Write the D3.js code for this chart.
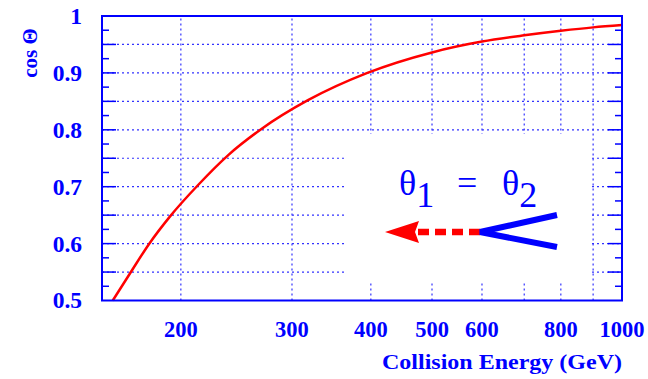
<!DOCTYPE html>
<html>
<head>
<meta charset="utf-8">
<script src="https://cdn.jsdelivr.net/npm/d3@7"></script>
<style>
  body { margin: 0; background: #fff; }
  text { font-family: "Liberation Serif", "Times New Roman", serif; fill: #0000ff; }
  .tick-label { font-weight: bold; }
</style>
</head>
<body>
<script>
// data
const energy = [156, 166, 178, 192, 213, 238, 268, 318, 395, 500, 600, 700, 800, 900, 1000];
const cosTheta = [0.500, 0.547, 0.599, 0.647, 0.703, 0.756, 0.801, 0.852, 0.900, 0.936, 0.955, 0.966, 0.974, 0.980, 0.984];

const xTicks = [200, 300, 400, 500, 600, 800, 1000];
const xGrid = [200, 300, 400, 500, 600, 700, 800, 900];
const yTicks = [0.5, 0.6, 0.7, 0.8, 0.9, 1];
const yGrid = [0.55, 0.6, 0.65, 0.7, 0.75, 0.8, 0.85, 0.9, 0.95];
const yMinor = [0.525, 0.575, 0.625, 0.675, 0.725, 0.775, 0.825, 0.875, 0.925, 0.975];

const W = 648, H = 379;
const margin = {top: 16, right: 26, bottom: 78.5, left: 102};
const blue = "#0000ff";

const svg = d3.select("body").append("svg")
    .attr("width", W)
    .attr("height", H);

const x = d3.scaleLog().domain([150, 1000]).range([margin.left, W - margin.right]);
const y = d3.scaleLinear().domain([0.5, 1]).range([H - margin.bottom, margin.top]);

// 격자선 (dotted)
const grid = svg.append("g")
    .attr("stroke", blue)
    .attr("stroke-width", 1.2)
    .attr("stroke-dasharray", "2,3")
    .attr("opacity", 0.8);

grid.selectAll(".hgrid")
    .data(yGrid)
    .join("line")
    .attr("x1", x(150)).attr("x2", x(1000))
    .attr("y1", d => y(d)).attr("y2", d => y(d));

grid.selectAll(".vgrid")
    .data(xGrid)
    .join("line")
    .attr("x1", d => x(d)).attr("x2", d => x(d))
    .attr("y1", y(0.5)).attr("y2", y(1));

// legend box hides the grid
svg.append("rect")
    .attr("x", 347).attr("y", 134)
    .attr("width", 244).attr("height", 148)
    .attr("fill", "#fff");

// axis ticks, left and right
const ticks = svg.append("g").attr("stroke", blue).attr("stroke-width", 1.5);
[[x(150), 1], [x(1000), -1]].forEach(([x0, dir]) => {
    ticks.append("g").selectAll("line")
        .data(yGrid)
        .join("line")
        .attr("x1", x0).attr("x2", x0 + dir * 14)
        .attr("y1", d => y(d)).attr("y2", d => y(d));
    ticks.append("g").selectAll("line")
        .data(yMinor)
        .join("line")
        .attr("x1", x0).attr("x2", x0 + dir * 7)
        .attr("y1", d => y(d)).attr("y2", d => y(d));
});

// curve
const line = d3.line()
    .x((d, i) => x(energy[i]))
    .y(d => y(d))
    .curve(d3.curveMonotoneX);

svg.append("path")
    .attr("d", line(cosTheta))
    .attr("fill", "none")
    .attr("stroke", "#ff0000")
    .attr("stroke-width", 2.5);

// frame
svg.append("rect")
    .attr("x", x(150)).attr("y", y(1))
    .attr("width", x(1000) - x(150))
    .attr("height", y(0.5) - y(1))
    .attr("fill", "none")
    .attr("stroke", blue)
    .attr("stroke-width", 2);

// tick labels
svg.append("g").selectAll("text")
    .data(yTicks)
    .join("text")
    .attr("class", "tick-label")
    .attr("x", 82)
    .attr("y", d => y(d))
    .attr("dy", "0.34em")
    .attr("text-anchor", "end")
    .style("font-size", "23.5px")
    .text(d => d3.format("")(d));

svg.append("g").selectAll("text")
    .data(xTicks)
    .join("text")
    .attr("class", "tick-label")
    .attr("x", d => x(d))
    .attr("y", 337)
    .attr("text-anchor", "middle")
    .style("font-size", "22.5px")
    .text(d => d);

// axis titles
svg.append("text")
    .attr("class", "tick-label")
    .attr("transform", "translate(37,53) rotate(-90)")
    .attr("text-anchor", "middle")
    .style("font-size", "21px")
    .text("cos Θ");

svg.append("text")
    .attr("class", "tick-label")
    .attr("x", 382)
    .attr("y", 369)
    .attr("textLength", 240)
    .attr("lengthAdjust", "spacingAndGlyphs")
    .style("font-size", "21px")
    .text("Collision Energy (GeV)");

// legend: θ1 = θ2 with arrow and V
const leg = svg.append("g");
const legText = leg.append("text")
    .attr("x", 399)
    .attr("y", 195)
    .style("font-size", "36px");
legText.append("tspan").text("θ");
legText.append("tspan").attr("dy", 12).text("1");
legText.append("tspan").attr("x", 457).attr("dy", -12).text("=");
legText.append("tspan").attr("x", 502).text("θ");
legText.append("tspan").attr("dy", 12).text("2");

leg.append("line")
    .attr("x1", 480).attr("y1", 232)
    .attr("x2", 414).attr("y2", 232)
    .attr("stroke", "#ff0000")
    .attr("stroke-width", 6.5)
    .attr("stroke-dasharray", "11,6");

leg.append("path")
    .attr("d", "M385,232 L419,221 L415,232 L419,243 Z")
    .attr("fill", "#ff0000");

leg.append("path")
    .attr("d", "M557,215 L480,232 L557,247")
    .attr("fill", "none")
    .attr("stroke", blue)
    .attr("stroke-width", 6);
</script>
</body>
</html>
